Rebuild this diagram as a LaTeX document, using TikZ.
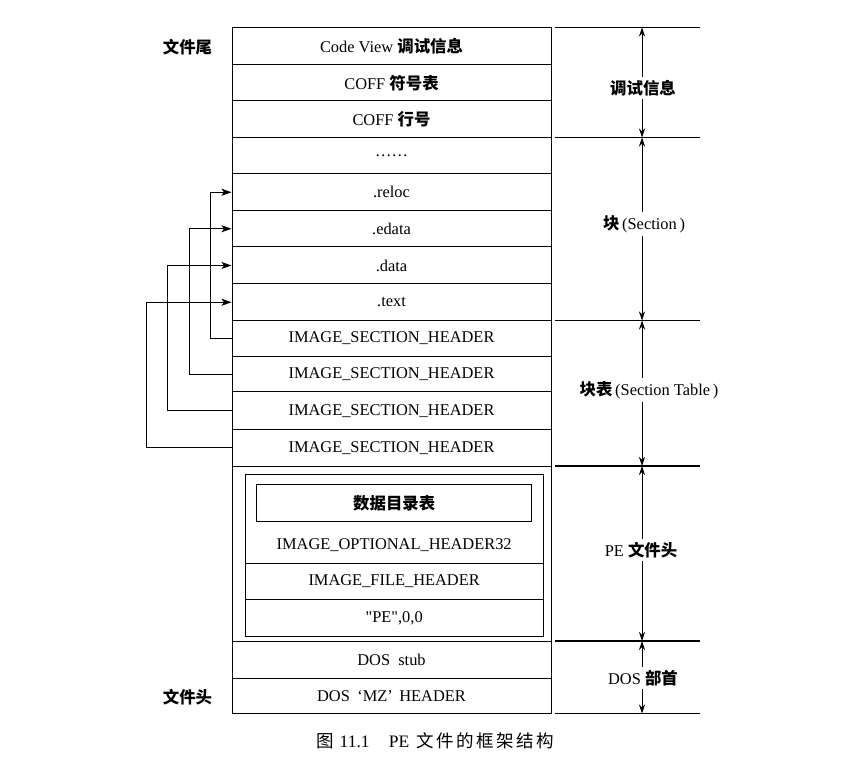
\documentclass[tikz,border=0pt]{standalone}
\usepackage{fontspec}
\setmainfont{Liberation Serif}
\newfontfamily\rawserif{Liberation Serif}
\newfontfamily\cjk{Noto Sans CJK SC}
\usetikzlibrary{arrows.meta}
\newcommand\latfont{\fontsize{16.4}{18}\selectfont}
\newcommand\capfont{\fontsize{17.5}{20}\selectfont}
\begin{document}
\begin{tikzpicture}[x=1pt,y=-1pt,
  row/.style={draw, line width=1pt, minimum width=319pt, inner sep=0pt, font=\latfont},
  inbox/.style={draw, line width=1pt, minimum width=298.3pt, inner sep=0pt, font=\latfont},
  txt/.style={inner sep=0pt, font=\latfont},
  sidelab/.style={inner sep=0pt, font=\latfont\cjk\bfseries},
  dimlab/.style={inner sep=3pt, font=\latfont},
  guide/.style={line width=1.1pt},
  dimarr/.style={line width=0.9pt, -{Stealth[length=9pt,width=6pt]}},
  linkarr/.style={line width=0.9pt, -{Stealth[length=10pt,width=7pt,inset=2.5pt]}}]
\useasboundingbox (0,0) rectangle (854,775);

% main column
\node[row, minimum height=37.5pt] (r1) at (391.5,46.25) {Code View {\cjk\bfseries 调试信息}};
\node[row, minimum height=36pt] (r2) at (391.5,83) {COFF {\cjk\bfseries 符号表}};
\node[row, minimum height=36.5pt] (r3) at (391.5,119.25) {COFF {\cjk\bfseries 行号}};
\node[row, minimum height=36.5pt] (r4) at (391.5,155.75) {\raisebox{-2pt}{……}};
\node[row, minimum height=36.5pt] (reloc) at (391.5,192.25) {.reloc};
\node[row, minimum height=36.5pt] (edata) at (391.5,228.75) {.edata};
\node[row, minimum height=37pt] (data) at (391.5,265.5) {.data};
\node[row, minimum height=36.5pt] (text) at (391.5,302.25) {.text};
\node[row, minimum height=36pt] (h1) at (391.5,338.5) {IMAGE\_SECTION\_HEADER};
\node[row, minimum height=35.5pt] (h2) at (391.5,374.25) {IMAGE\_SECTION\_HEADER};
\node[row, minimum height=37.5pt] (h3) at (391.5,410.75) {IMAGE\_SECTION\_HEADER};
\node[row, minimum height=36.5pt] (h4) at (391.5,447.75) {IMAGE\_SECTION\_HEADER};
\node[row, minimum height=175pt] (pe) at (391.5,553.5) {};
\node[row, minimum height=37pt] (stub) at (391.5,659.5) {DOS\hspace{0.5em}stub};
\node[row, minimum height=35.5pt] (mz) at (391.5,695.75) {DOS\hspace{0.45em}‘MZ’\hspace{0.4em}HEADER};

% PE header contents
\node[inbox, minimum height=89pt] (opt) at (394.15,518.8) {};
\node[inbox, minimum height=35.7pt] (fh) at (394.15,581.15) {IMAGE\_FILE\_HEADER};
\node[inbox, minimum height=37.7pt] (sig) at (394.15,617.85) {{\rawserif "PE"},0,0};
\node[draw, line width=1pt, minimum width=275pt, minimum height=37.4pt, inner sep=0pt, font=\latfont] (dd) at (394.2,503) {{\cjk\bfseries 数据目录表}};
\node[txt] (optlab) at (394.15,545.5) {IMAGE\_OPTIONAL\_HEADER32};

% left labels
\node[sidelab] (tail) at (187.5,46.7) {文件尾};
\node[sidelab] (head) at (187.5,696.7) {文件头};

% section header -> section links
\draw[linkarr] (h1.west) -- ++(-21,0) |- (reloc.west);
\draw[linkarr] (h2.west) -- ++(-42,0) |- (edata.west);
\draw[linkarr] (h3.west) -- ++(-64,0) |- (data.west);
\draw[linkarr] (h4.west) -- ++(-85,0) |- (text.west);

% right guide lines
\coordinate (a0) at (555,27.5);  \coordinate (b0) at (700,27.5);
\coordinate (a1) at (555,137.5); \coordinate (b1) at (700,137.5);
\coordinate (a2) at (555,320.5); \coordinate (b2) at (700,320.5);
\coordinate (a3) at (555,466);   \coordinate (b3) at (700,466);
\coordinate (a4) at (555,641);   \coordinate (b4) at (700,641);
\coordinate (a5) at (555,713.5); \coordinate (b5) at (700,713.5);
\foreach \i in {0,...,5} {\draw[guide] (a\i) -- (b\i);}

\coordinate (m0) at (642,27.5);
\coordinate (m1) at (642,137.5);
\coordinate (m2) at (642,320.5);
\coordinate (m3) at (642,466);
\coordinate (m4) at (642,641);
\coordinate (m5) at (642,713.5);

\node[dimlab] (L1) at (643,88) {{\cjk\bfseries 调试信息}};
\node[dimlab] (L2) at (644,224) {{\cjk\bfseries 块}\,(Section\,)};
\node[dimlab] (L3) at (649,390) {{\cjk\bfseries 块表}\,(Section Table\,)};
\node[dimlab] (L4) at (641,550) {PE {\cjk\bfseries 文件头}};
\node[dimlab] (L5) at (643,678) {DOS {\cjk\bfseries 部首}};

\draw[dimarr] (L1.north -| m0) -- (m0);
\draw[dimarr] (L1.south -| m0) -- (m1);
\draw[dimarr] (L2.north -| m1) -- (m1);
\draw[dimarr] (L2.south -| m1) -- (m2);
\draw[dimarr] (L3.north -| m2) -- (m2);
\draw[dimarr] (L3.south -| m2) -- (m3);
\draw[dimarr] (L4.north -| m3) -- (m3);
\draw[dimarr] (L4.south -| m3) -- (m4);
\draw[dimarr] (L5.north -| m4) -- (m4);
\draw[dimarr] (L5.south -| m4) -- (m5);

% caption
\node[inner sep=0pt, font=\capfont] (cap) at (435,741) {{\cjk 图}\hspace{0.35em}11.1\hspace{1.1em}PE\hspace{0.4em}{\cjk 文\kern2.5pt 件\kern2.5pt 的\kern2.5pt 框\kern2.5pt 架\kern2.5pt 结\kern2.5pt 构}};
\end{tikzpicture}
\end{document}
